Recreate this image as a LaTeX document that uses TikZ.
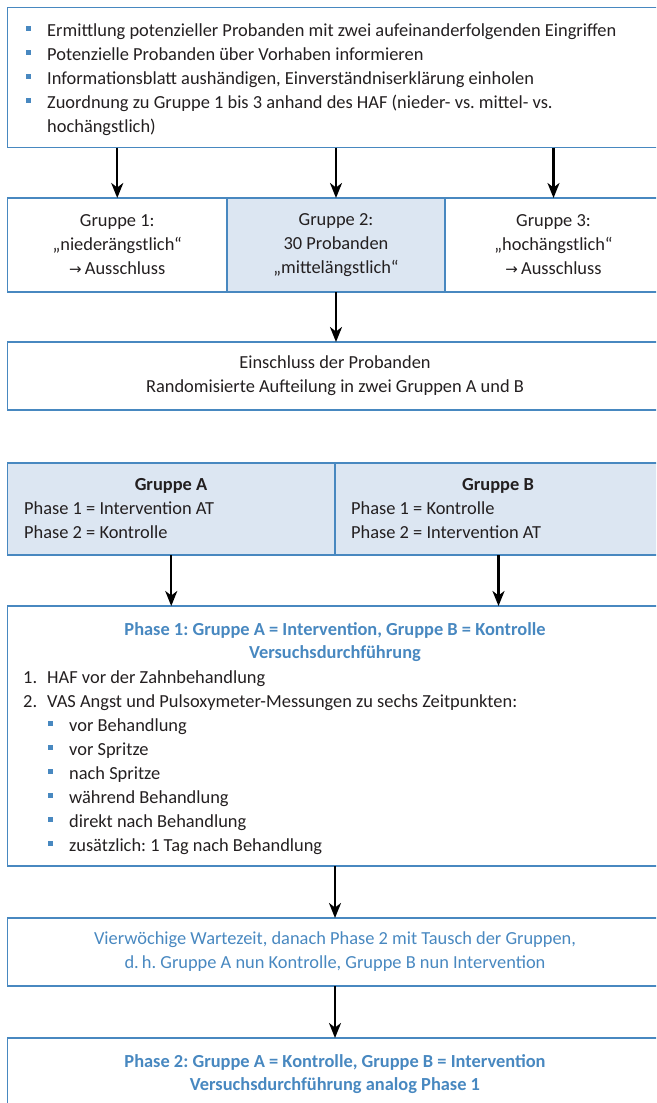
\documentclass[tikz,border=0pt]{standalone}
\usepackage{fontspec}
\setmainfont{Carlito}
\newfontfamily\arrowfont{DejaVu Sans}
\usetikzlibrary{arrows.meta}

\definecolor{frameblue}{RGB}{72,136,192}
\definecolor{paleblue}{RGB}{220,230,242}
\definecolor{inkgray}{RGB}{35,31,32}

\newcommand{\basefont}{\fontsize{18.4}{24}\selectfont\frenchspacing}
\newcommand{\ausschluss}{{\arrowfont\fontsize{15}{24}\selectfont →}\,Ausschluss}

\tikzset{
  box/.style={draw=frameblue, line width=1.6pt, inner sep=0pt, outer sep=0pt,
    anchor=north west, align=center, text=inkgray, font=\basefont},
  tinted/.style={box, fill=paleblue},
  flow/.style={draw=black, line width=2.3pt, -{Stealth[length=15pt, width=12pt, inset=4.5pt]}},
  sq/.style={fill=frameblue, inner sep=0pt, minimum size=5.5pt},
  txt/.style={anchor=base west, inner sep=0pt, text=inkgray, font=\basefont},
  head/.style={anchor=base, inner sep=0pt, text=frameblue, font=\basefont\bfseries},
  bold/.style={anchor=base, inner sep=0pt, text=inkgray, font=\basefont\bfseries}
}

\begin{document}
\begin{tikzpicture}[x=1pt, y=-1pt]
    \useasboundingbox (0,0) rectangle (656,1103);
    \clip (0,0) rectangle (656,1103);

    % boxes
    \node[box, minimum width=655, minimum height=140] (top) at (7.5,7.5) {};
    \node[box, minimum width=219.5, minimum height=94] (g1) at (7.5,198)
        {Gruppe 1:\\„niederängstlich“\\\ausschluss};
    \node[tinted, minimum width=218, minimum height=94] (g2) at (227,198)
        {Gruppe 2:\\30 Probanden\\„mittelängstlich“};
    \node[box, minimum width=217, minimum height=94] (g3) at (445,198)
        {Gruppe 3:\\„hochängstlich“\\\ausschluss};
    \node[box, minimum width=655, minimum height=68] (incl) at (7.5,342)
        {Einschluss der Probanden\\Randomisierte Aufteilung in zwei Gruppen A und B};
    \node[tinted, minimum width=327.5, minimum height=92] (gA) at (7.5,463) {};
    \node[tinted, minimum width=327, minimum height=92] (gB) at (335,463) {};
    \node[box, minimum width=655, minimum height=260] (ph1) at (7.5,606) {};
    \node[box, text=frameblue, minimum width=655, minimum height=68] (wait) at (7.5,918)
        {Vierwöchige Wartezeit, danach Phase 2 mit Tausch der Gruppen,\\d.\,h. Gruppe A nun Kontrolle, Gruppe B nun Intervention};
    \node[box, minimum width=655, minimum height=80] (ph2) at (7.5,1038) {};

    % top list
    \foreach \entry [count=\k from 0] in {Ermittlung potenzieller Probanden mit zwei aufeinanderfolgenden Eingriffen,
        Potenzielle Probanden über Vorhaben informieren,
        {Informationsblatt aushändigen, Einverständniserklärung einholen},
        Zuordnung zu Gruppe 1 bis 3 anhand des HAF (nieder- vs. mittel- vs.} {
        \node[sq] (topsq\k) at (28.5, 28.5+24*\k) {};
        \node[txt] (toptx\k) at (47, 36+24*\k) {\entry};
    }
    \node[txt] (toptx4) at (47,132) {hochängstlich)};

    % group A / B
    \node[bold] (gAhead) at (171,490) {Gruppe A};
    \node[txt] (gAone) at (24,514) {Phase 1 = Intervention AT};
    \node[txt] (gAtwo) at (24,538) {Phase 2 = Kontrolle};
    \node[bold] (gBhead) at (498,490) {Gruppe B};
    \node[txt] (gBone) at (351,514) {Phase 1 = Kontrolle};
    \node[txt] (gBtwo) at (351,538) {Phase 2 = Intervention AT};

    % phase 1
    \node[head] (ph1head) at (335,635) {Phase 1: Gruppe A = Intervention, Gruppe B = Kontrolle};
    \node[head] (ph1sub) at (335,658) {Versuchsdurchführung};
    \node[txt] (num1) at (23,683) {1.};
    \node[txt] (item1) at (47,683) {HAF vor der Zahnbehandlung};
    \node[txt] (num2) at (23,707) {2.};
    \node[txt] (item2) at (47,707) {VAS Angst und Pulsoxymeter-Messungen zu sechs Zeitpunkten:};
    \foreach \entry [count=\k from 0] in {vor Behandlung, vor Spritze, nach Spritze,
        während Behandlung, direkt nach Behandlung, zusätzlich: 1 Tag nach Behandlung} {
        \node[sq] (tsq\k) at (50.5, 723.5+24*\k) {};
        \node[txt] (ttx\k) at (69, 731+24*\k) {\entry};
    }

    % phase 2
    \node[head] (ph2head) at (335,1067) {Phase 2: Gruppe A = Kontrolle, Gruppe B = Intervention};
    \node[head] (ph2sub) at (335,1090) {Versuchsdurchführung analog Phase 1};

    % arrows
    \draw[flow] (top.south -| g1.north) -- (g1.north);
    \draw[flow] (top.south -| g2.north) -- (g2.north);
    \draw[flow] (top.south -| g3.north) -- (g3.north);
    \draw[flow] (g2.south) -- (incl.north -| g2.south);
    \draw[flow] (gA.south) -- (ph1.north -| gA.south);
    \draw[flow] (gB.south) -- (ph1.north -| gB.south);
    \draw[flow] (ph1.south) -- (wait.north);
    \draw[flow] (wait.south) -- (ph2.north);
\end{tikzpicture}
\end{document}
